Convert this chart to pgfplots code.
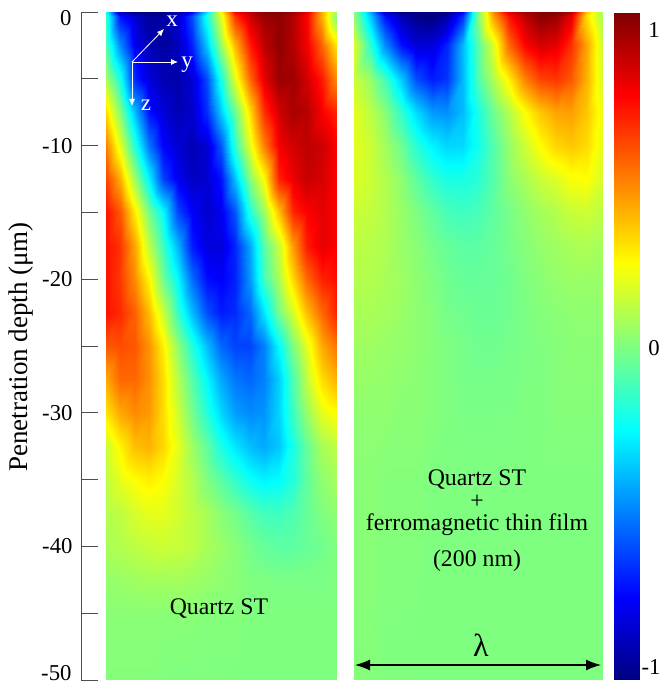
\documentclass[border=0pt]{standalone}
\usepackage{pgfplots}
\pgfplotsset{compat=1.18}
\usepackage{fontspec}
\setmainfont{Liberation Serif}
\usetikzlibrary{arrows.meta}
\newcommand{\fs}[1]{\fontsize{#1}{#1}\selectfont}
\pgfplotstableread[row sep=\\]{
x y c\\
0 0 -.2\\1 0 -.9\\2 0 -1\\3 0 -1\\4 0 -1\\5 0 -.95\\6 0 -.75\\7 0 -.3\\8 0 .25\\9 0 .75\\10 0 .9\\11 0 1\\12 0 1\\13 0 .95\\14 0 .8\\15 0 .4\\16 0 .05\\
0 -.3 -.15\\1 -.3 -.72\\2 -.3 -.85\\3 -.3 -.95\\4 -.3 -.93\\5 -.3 -.85\\6 -.3 -.6\\7 -.3 -.2\\8 -.3 .2\\9 -.3 .65\\10 -.3 .85\\11 -.3 .95\\12 -.3 .97\\13 -.3 .9\\14 -.3 .75\\15 -.3 .4\\16 -.3 0\\
0 -2.5 -.1\\1 -2.5 -.48\\2 -2.5 -.78\\3 -2.5 -.9\\4 -2.5 -.94\\5 -2.5 -.88\\6 -2.5 -.68\\7 -2.5 -.35\\8 -2.5 .05\\9 -2.5 .4\\10 -2.5 .7\\11 -2.5 .88\\12 -2.5 .97\\13 -2.5 .9\\14 -2.5 .77\\15 -2.5 .55\\16 -2.5 .3\\
0 -5 .08\\1 -5 -.2\\2 -5 -.68\\3 -5 -.82\\4 -5 -.9\\5 -5 -.92\\6 -5 -.84\\7 -5 -.6\\8 -5 -.2\\9 -5 .2\\10 -5 .55\\11 -5 .8\\12 -5 .95\\13 -5 .94\\14 -5 .84\\15 -5 .7\\16 -5 .48\\
0 -7.5 .32\\1 -7.5 .01\\2 -7.5 -.39\\3 -7.5 -.72\\4 -7.5 -.83\\5 -7.5 -.9\\6 -7.5 -.85\\7 -7.5 -.66\\8 -7.5 -.35\\9 -7.5 -.04\\10 -7.5 .32\\11 -7.5 .66\\12 -7.5 .84\\13 -7.5 .92\\14 -7.5 .89\\15 -7.5 .76\\16 -7.5 .68\\
0 -10 .5\\1 -10 .2\\2 -10 -.18\\3 -10 -.52\\4 -10 -.75\\5 -10 -.84\\6 -10 -.9\\7 -10 -.84\\8 -10 -.58\\9 -10 -.15\\10 -10 .2\\11 -10 .5\\12 -10 .77\\13 -10 .84\\14 -10 .88\\15 -10 .85\\16 -10 .76\\
0 -12.5 .62\\1 -12.5 .41\\2 -12.5 .05\\3 -12.5 -.27\\4 -12.5 -.62\\5 -12.5 -.78\\6 -12.5 -.87\\7 -12.5 -.84\\8 -12.5 -.72\\9 -12.5 -.37\\10 -12.5 .01\\11 -12.5 .25\\12 -12.5 .69\\13 -12.5 .79\\14 -12.5 .86\\15 -12.5 .83\\16 -12.5 .76\\
0 -15 .72\\1 -15 .58\\2 -15 .28\\3 -15 -.02\\4 -15 -.25\\5 -15 -.62\\6 -15 -.76\\7 -15 -.85\\8 -15 -.78\\9 -15 -.58\\10 -15 -.18\\11 -15 .06\\12 -15 .38\\13 -15 .68\\14 -15 .76\\15 -15 .8\\16 -15 .76\\
0 -17.5 .72\\1 -17.5 .65\\2 -17.5 .42\\3 -17.5 .12\\4 -17.5 -.13\\5 -17.5 -.4\\6 -17.5 -.7\\7 -17.5 -.82\\8 -17.5 -.82\\9 -17.5 -.68\\10 -17.5 -.42\\11 -17.5 -.08\\12 -17.5 .14\\13 -17.5 .45\\14 -17.5 .7\\15 -17.5 .8\\16 -17.5 .76\\
0 -20 .72\\1 -20 .64\\2 -20 .47\\3 -20 .26\\4 -20 -.03\\5 -20 -.26\\6 -20 -.54\\7 -20 -.73\\8 -20 -.76\\9 -20 -.69\\10 -20 -.45\\11 -20 -.12\\12 -20 .09\\13 -20 .33\\14 -20 .55\\15 -20 .69\\16 -20 .73\\
0 -22.5 .72\\1 -22.5 .67\\2 -22.5 .56\\3 -22.5 .38\\4 -22.5 .15\\5 -22.5 -.15\\6 -22.5 -.38\\7 -22.5 -.6\\8 -22.5 -.7\\9 -22.5 -.67\\10 -22.5 -.55\\11 -22.5 -.3\\12 -22.5 -.02\\13 -22.5 .17\\14 -22.5 .38\\15 -22.5 .55\\16 -22.5 .68\\
0 -25 .58\\1 -25 .6\\2 -25 .58\\3 -25 .46\\4 -25 .28\\5 -25 .03\\6 -25 -.18\\7 -25 -.38\\8 -25 -.55\\9 -25 -.62\\10 -25 -.62\\11 -25 -.5\\12 -25 -.25\\13 -25 0\\14 -25 .2\\15 -25 .42\\16 -25 .52\\
0 -27.5 .42\\1 -27.5 .55\\2 -27.5 .55\\3 -27.5 .47\\4 -27.5 .32\\5 -27.5 .1\\6 -27.5 -.08\\7 -27.5 -.26\\8 -27.5 -.42\\9 -27.5 -.52\\10 -27.5 -.55\\11 -27.5 -.5\\12 -27.5 -.34\\13 -27.5 -.1\\14 -27.5 .13\\15 -27.5 .32\\16 -27.5 .4\\
0 -30 .3\\1 -30 .42\\2 -30 .48\\3 -30 .45\\4 -30 .32\\5 -30 .15\\6 -30 -.02\\7 -30 -.18\\8 -30 -.33\\9 -30 -.44\\10 -30 -.48\\11 -30 -.46\\12 -30 -.33\\13 -30 -.13\\14 -30 .05\\15 -30 .2\\16 -30 .25\\
0 -32.5 .15\\1 -32.5 .27\\2 -32.5 .38\\3 -32.5 .4\\4 -32.5 .33\\5 -32.5 .2\\6 -32.5 .06\\7 -32.5 -.06\\8 -32.5 -.2\\9 -32.5 -.3\\10 -32.5 -.38\\11 -32.5 -.42\\12 -32.5 -.36\\13 -32.5 -.2\\14 -32.5 -.05\\15 -32.5 .08\\16 -32.5 .12\\
0 -35 .12\\1 -35 .2\\2 -35 .25\\3 -35 .28\\4 -35 .25\\5 -35 .17\\6 -35 .1\\7 -35 0\\8 -35 -.07\\9 -35 -.15\\10 -35 -.23\\11 -35 -.27\\12 -35 -.25\\13 -35 -.18\\14 -35 -.06\\15 -35 .03\\16 -35 .07\\
0 -37.5 .1\\1 -37.5 .12\\2 -37.5 .17\\3 -37.5 .2\\4 -37.5 .2\\5 -37.5 .16\\6 -37.5 .12\\7 -37.5 .08\\8 -37.5 .02\\9 -37.5 -.02\\10 -37.5 -.08\\11 -37.5 -.12\\12 -37.5 -.13\\13 -37.5 -.1\\14 -37.5 -.05\\15 -37.5 0\\16 -37.5 .03\\
0 -40 .08\\1 -40 .1\\2 -40 .12\\3 -40 .14\\4 -40 .15\\5 -40 .14\\6 -40 .12\\7 -40 .08\\8 -40 .05\\9 -40 .02\\10 -40 -.02\\11 -40 -.05\\12 -40 -.07\\13 -40 -.07\\14 -40 -.05\\15 -40 -.03\\16 -40 0\\
0 -42.5 .04\\1 -42.5 .05\\2 -42.5 .06\\3 -42.5 .07\\4 -42.5 .07\\5 -42.5 .07\\6 -42.5 .06\\7 -42.5 .05\\8 -42.5 .03\\9 -42.5 .02\\10 -42.5 0\\11 -42.5 0\\12 -42.5 -.01\\13 -42.5 -.01\\14 -42.5 -.01\\15 -42.5 -.01\\16 -42.5 0\\
0 -45 .02\\1 -45 .02\\2 -45 .02\\3 -45 .02\\4 -45 .02\\5 -45 .02\\6 -45 .02\\7 -45 .01\\8 -45 .01\\9 -45 .01\\10 -45 0\\11 -45 0\\12 -45 0\\13 -45 0\\14 -45 0\\15 -45 0\\16 -45 0\\
0 -50 .01\\1 -50 .01\\2 -50 .01\\3 -50 .01\\4 -50 0\\5 -50 0\\6 -50 0\\7 -50 0\\8 -50 0\\9 -50 0\\10 -50 0\\11 -50 0\\12 -50 0\\13 -50 0\\14 -50 0\\15 -50 0\\16 -50 0\\
}\leftdata
\pgfplotstableread[row sep=\\]{
x y c\\
0 0 .03\\1 0 -.4\\2 0 -.85\\3 0 -1\\4 0 -1\\5 0 -1\\6 0 -1\\7 0 -.75\\8 0 0\\9 0 .5\\10 0 .8\\11 0 .95\\12 0 1\\13 0 1\\14 0 .9\\15 0 .35\\16 0 .08\\
0 -.3 .03\\1 -.3 -.35\\2 -.3 -.72\\3 -.3 -.9\\4 -.3 -.98\\5 -.3 -1\\6 -.3 -.92\\7 -.3 -.65\\8 -.3 0\\9 -.3 .45\\10 -.3 .72\\11 -.3 .88\\12 -.3 .98\\13 -.3 .95\\14 -.3 .8\\15 -.3 .3\\16 -.3 .08\\
0 -2.5 .18\\1 -2.5 -.15\\2 -2.5 -.48\\3 -2.5 -.72\\4 -2.5 -.83\\5 -2.5 -.82\\6 -2.5 -.68\\7 -2.5 -.38\\8 -2.5 -.08\\9 -2.5 .2\\10 -2.5 .55\\11 -2.5 .75\\12 -2.5 .83\\13 -2.5 .8\\14 -2.5 .66\\15 -2.5 .42\\16 -2.5 .15\\
0 -5 .15\\1 -5 .05\\2 -5 -.12\\3 -5 -.35\\4 -5 -.6\\5 -5 -.7\\6 -5 -.65\\7 -5 -.38\\8 -5 -.1\\9 -5 .1\\10 -5 .28\\11 -5 .5\\12 -5 .62\\13 -5 .65\\14 -5 .58\\15 -5 .4\\16 -5 .17\\
0 -7.5 .2\\1 -7.5 .12\\2 -7.5 .02\\3 -7.5 -.15\\4 -7.5 -.32\\5 -7.5 -.45\\6 -7.5 -.47\\7 -7.5 -.38\\8 -7.5 -.2\\9 -7.5 -.03\\10 -7.5 .1\\11 -7.5 .25\\12 -7.5 .36\\13 -7.5 .43\\14 -7.5 .44\\15 -7.5 .36\\16 -7.5 .22\\
0 -10 .2\\1 -10 .15\\2 -10 .07\\3 -10 -.03\\4 -10 -.17\\5 -10 -.27\\6 -10 -.33\\7 -10 -.32\\8 -10 -.22\\9 -10 -.08\\10 -10 .04\\11 -10 .15\\12 -10 .25\\13 -10 .33\\14 -10 .36\\15 -10 .32\\16 -10 .2\\
0 -12.5 .18\\1 -12.5 .15\\2 -12.5 .1\\3 -12.5 .03\\4 -12.5 -.06\\5 -12.5 -.15\\6 -12.5 -.2\\7 -12.5 -.2\\8 -12.5 -.17\\9 -12.5 -.08\\10 -12.5 .02\\11 -12.5 .08\\12 -12.5 .14\\13 -12.5 .18\\14 -12.5 .24\\15 -12.5 .25\\16 -12.5 .17\\
0 -15 .15\\1 -15 .13\\2 -15 .1\\3 -15 .05\\4 -15 0\\5 -15 -.06\\6 -15 -.11\\7 -15 -.13\\8 -15 -.11\\9 -15 -.06\\10 -15 -.02\\11 -15 .03\\12 -15 .07\\13 -15 .1\\14 -15 .14\\15 -15 .15\\16 -15 .12\\
0 -17.5 .12\\1 -17.5 .11\\2 -17.5 .09\\3 -17.5 .05\\4 -17.5 .02\\5 -17.5 -.02\\6 -17.5 -.05\\7 -17.5 -.07\\8 -17.5 -.07\\9 -17.5 -.05\\10 -17.5 -.02\\11 -17.5 .01\\12 -17.5 .04\\13 -17.5 .06\\14 -17.5 .08\\15 -17.5 .09\\16 -17.5 .07\\
0 -20 .1\\1 -20 .1\\2 -20 .08\\3 -20 .06\\4 -20 .03\\5 -20 0\\6 -20 -.03\\7 -20 -.05\\8 -20 -.05\\9 -20 -.05\\10 -20 -.03\\11 -20 0\\12 -20 .02\\13 -20 .04\\14 -20 .05\\15 -20 .05\\16 -20 .05\\
0 -22.5 .08\\1 -22.5 .08\\2 -22.5 .07\\3 -22.5 .05\\4 -22.5 .03\\5 -22.5 .01\\6 -22.5 -.02\\7 -22.5 -.03\\8 -22.5 -.04\\9 -22.5 -.04\\10 -22.5 -.03\\11 -22.5 -.01\\12 -22.5 .01\\13 -22.5 .02\\14 -22.5 .03\\15 -22.5 .03\\16 -22.5 .03\\
0 -25 .06\\1 -25 .06\\2 -25 .05\\3 -25 .04\\4 -25 .03\\5 -25 .01\\6 -25 0\\7 -25 -.02\\8 -25 -.03\\9 -25 -.03\\10 -25 -.02\\11 -25 -.01\\12 -25 0\\13 -25 .01\\14 -25 .02\\15 -25 .02\\16 -25 .02\\
0 -30 .03\\1 -30 .03\\2 -30 .03\\3 -30 .02\\4 -30 .02\\5 -30 .01\\6 -30 0\\7 -30 -.01\\8 -30 -.01\\9 -30 -.01\\10 -30 -.01\\11 -30 0\\12 -30 0\\13 -30 .01\\14 -30 .01\\15 -30 .01\\16 -30 .01\\
0 -35 .02\\1 -35 .02\\2 -35 .01\\3 -35 .01\\4 -35 .01\\5 -35 0\\6 -35 0\\7 -35 0\\8 -35 0\\9 -35 0\\10 -35 0\\11 -35 0\\12 -35 0\\13 -35 0\\14 -35 0\\15 -35 0\\16 -35 0\\
0 -50 .01\\1 -50 .01\\2 -50 0\\3 -50 0\\4 -50 0\\5 -50 0\\6 -50 0\\7 -50 0\\8 -50 0\\9 -50 0\\10 -50 0\\11 -50 0\\12 -50 0\\13 -50 0\\14 -50 0\\15 -50 0\\16 -50 0\\
}\rightdata
\pgfplotstableread[row sep=\\]{
x y c\\
0 -1 -1\\1 -1 -1\\
0 -.75 -.75\\1 -.75 -.75\\
0 -.25 -.25\\1 -.25 -.25\\
0 .25 .25\\1 .25 .25\\
0 .75 .75\\1 .75 .75\\
0 1 1\\1 1 1\\
}\bardata
\pgfplotsset{panel/.style={hide axis, scale only axis, anchor=south west,
  colormap/jet, point meta min=-1, point meta max=1, enlargelimits=false}}
\begin{document}
\begin{tikzpicture}[x=1pt,y=1pt]
\path[use as bounding box] (0,0) rectangle (663,683);
% left panel
\begin{axis}[panel, at={(106pt,3pt)}, width=230pt, height=668pt, xmin=0, xmax=16, ymin=-50, ymax=0]
\addplot[surf, shader=interp, mesh/cols=17, point meta=explicit] table[x=x,y=y,meta=c] {\leftdata};
\end{axis}
% right panel
\begin{axis}[panel, at={(354pt,3pt)}, width=248pt, height=668pt, xmin=0, xmax=16, ymin=-50, ymax=0]
\addplot[surf, shader=interp, mesh/cols=17, point meta=explicit] table[x=x,y=y,meta=c] {\rightdata};
\end{axis}
% colour bar
\begin{axis}[panel, at={(614pt,3pt)}, width=25pt, height=667pt, xmin=0, xmax=1, ymin=-1, ymax=1]
\addplot[surf, shader=interp, mesh/cols=2, point meta=explicit] table[x=x,y=y,meta=c] {\bardata};
\end{axis}
% depth axis
\begin{axis}[scale only axis, anchor=south west, at={(81pt,3pt)}, width=17pt, height=668pt,
  xmin=0, xmax=1, ymin=-50, ymax=0, axis y line*=left, axis x line=none,
  ytick={-50,-40,-30,-20,-10,0},
  yticklabels={{},-40,-30,-20,-10,{}},
  minor ytick={-45,-35,-25,-15,-5},
  tick align=inside, major tick length=17pt, minor tick length=17pt,
  every tick/.style={black!70,line width=.9pt}, axis line style={black!70,line width=.9pt},
  yticklabel style={font=\fs{22.7}, xshift=-5pt}]
\addplot[draw=none] coordinates {(0,-50) (1,0)};
\end{axis}
\node[font=\fs{22.7},anchor=east] at (75,665) {0};
\node[font=\fs{22.7},anchor=east] at (75,10) {-50};
\node[font=\fs{27},rotate=90] at (21,336) {Penetration depth (μm)};
% coordinate triad
\draw[white,line width=.8pt,-{Latex[length=7pt,width=6pt]}] (132,621) -- (164,654);
\draw[white,line width=.8pt,-{Latex[length=7pt,width=6pt]}] (132,621) -- (178,621);
\draw[white,line width=.8pt,-{Latex[length=7pt,width=6pt]}] (132,621) -- (132,577);
\node[white,font=\fs{23}] at (172,662) {x};
\node[white,font=\fs{23}] at (187,618) {y};
\node[white,font=\fs{23}] at (146,578) {z};
% panel text
\node[font=\fs{23.8}] at (219,74) {Quartz ST};
\node[font=\fs{23.8}] at (477,203) {Quartz ST};
\node[font=\fs{23.8}] at (477,181) {+};
\node[font=\fs{23.8}] at (477,158) {ferromagnetic thin film};
\node[font=\fs{23.8}] at (477,122) {(200 nm)};
\node[font=\fs{32}] at (481,38) {λ};
\draw[black,line width=1.2pt,{Latex[length=15pt,width=11pt]}-{Latex[length=15pt,width=11pt]}] (355,18) -- (601,18);
% colour bar labels
\node[font=\fs{22.7}] at (654,653) {1};
\node[font=\fs{22.7}] at (654,335) {0};
\node[font=\fs{22.7}] at (651,16) {-1};
\end{tikzpicture}
\end{document}
